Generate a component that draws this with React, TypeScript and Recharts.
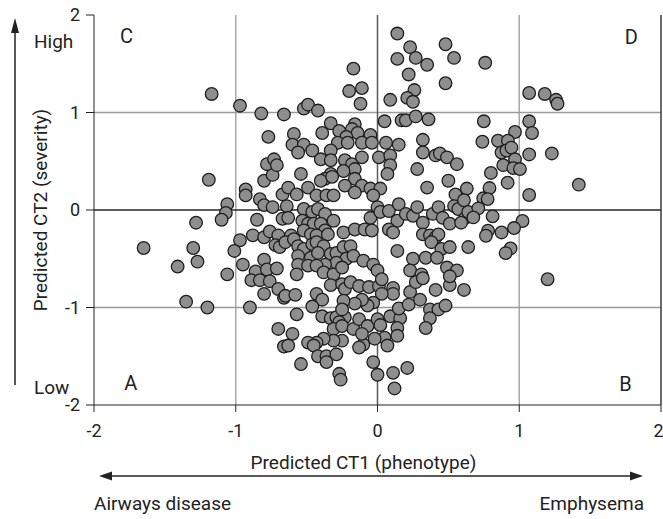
import React from "react";
import {
  ScatterChart,
  Scatter,
  XAxis,
  YAxis,
  ReferenceLine,
  ReferenceDot,
} from "recharts";

// Predicted CT1 (phenotype), Predicted CT2 (severity) pairs, grouped by area of the plot
const topLeftPoints: [number, number][] = [
  [-1.17, 1.19], [-0.97, 1.07], [-0.82, 0.99], [-0.66, 0.98], [-0.77, 0.75],
];

const topCenterPoints: [number, number][] = [
  [0.14, 1.81], [0.23, 1.67], [0.48, 1.7], [0.14, 1.55], [0.27, 1.56], [0.35, 1.49],
  [0.54, 1.56], [-0.17, 1.45], [0.22, 1.39], [0.48, 1.3], [-0.2, 1.22], [-0.11, 1.25],
  [0.26, 1.23], [-0.12, 1.09], [0.09, 1.13], [0.21, 1.15], [0.25, 1.11], [-0.52, 1.04],
  [-0.49, 1.08], [-0.42, 1.02], [-0.33, 0.89], [-0.16, 0.88], [-0.18, 0.83], [-0.27, 0.81],
  [-0.39, 0.79], [-0.59, 0.78], [-0.14, 0.79], [-0.05, 0.77], [-0.22, 0.75], [0.05, 0.91],
  [0.17, 0.92], [0.2, 0.92], [0.27, 0.96], [0.36, 0.93], [0.32, 0.72], [-0.28, 0.69],
  [-0.21, 0.69], [-0.11, 0.69], [-0.04, 0.69], [-0.6, 0.67], [-0.52, 0.67], [0.06, 0.69],
  [0.15, 0.67],
];

const topRightPoints: [number, number][] = [
  [0.76, 1.51], [1.07, 1.2], [1.18, 1.19], [1.26, 1.13], [1.27, 1.09], [0.75, 0.91],
  [1.07, 0.91], [1.09, 0.79], [0.97, 0.8], [0.74, 0.7], [0.85, 0.71], [0.92, 0.71],
];

const midLeftPoints: [number, number][] = [
  [-1.19, 0.31], [-1.06, 0.06], [-1.07, -0.03], [-1.1, -0.1], [-1.28, -0.13], [-1.65, -0.39],
  [-1.3, -0.39], [-1.27, -0.53], [-1.41, -0.58], [-1.06, -0.66], [-0.97, -0.31], [-1.01, -0.42],
  [-0.95, -0.56], [-0.85, -0.1], [-0.88, -0.26], [-0.8, -0.28], [-0.76, -0.22], [-0.7, -0.26],
  [-0.72, -0.36], [-0.69, -0.38], [-0.8, -0.51], [-0.86, -0.63], [-0.78, -0.61], [-0.71, -0.6],
  [-0.93, 0.21], [-0.93, 0.15], [-0.83, 0.11], [-0.8, 0.05], [-0.74, 0.03], [-0.8, 0.3],
  [-0.74, 0.36], [-0.78, 0.47], [-0.73, 0.52], [-0.71, 0.46], [-0.67, 0.16], [-0.67, -0.09],
];

const midCenterPoints: [number, number][] = [
  [-0.56, 0.59], [-0.46, 0.61], [-0.4, 0.52], [-0.33, 0.61], [-0.33, 0.51], [-0.23, 0.51],
  [-0.18, 0.47], [-0.16, 0.42], [-0.11, 0.54], [0.01, 0.54], [0.09, 0.56], [0.09, 0.46],
  [0.07, 0.37], [-0.24, 0.4], [-0.33, 0.37], [-0.37, 0.32], [-0.4, 0.3], [-0.32, 0.34],
  [-0.54, 0.37], [-0.16, 0.32], [-0.23, 0.25], [-0.11, 0.25], [-0.05, 0.22], [0.02, 0.22],
  [-0.16, 0.18], [-0.03, 0.15], [-0.63, 0.23], [-0.57, 0.16], [-0.49, 0.23], [-0.43, 0.15],
  [-0.36, 0.15], [-0.31, 0.15],
  [0.32, 0.59], [0.41, 0.56], [0.44, 0.58], [0.49, 0.54], [0.56, 0.47], [0.28, 0.42],
  [0.5, 0.3], [0.35, 0.23], [0.63, 0.22], [0.55, 0.16],
  [-0.64, 0.04], [-0.63, -0.08], [-0.52, 0.01], [-0.46, -0.02], [-0.42, 0.01], [-0.37, -0.04],
  [-0.53, -0.11], [-0.49, -0.14], [-0.45, -0.14], [-0.4, -0.14], [-0.31, -0.11], [-0.37, -0.21],
  [-0.05, -0.08], [0.0, 0.03], [0.02, -0.02], [0.08, -0.01], [0.15, 0.06], [0.14, -0.11],
  [0.2, -0.04], [0.25, -0.06], [0.28, 0.03], [0.32, -0.13], [0.39, -0.04], [0.43, 0.03],
  [0.46, -0.08], [0.54, 0.04], [0.57, 0.01], [0.61, 0.1], [0.62, -0.08], [0.64, -0.02],
  [0.51, -0.14], [0.59, -0.13], [0.08, -0.2], [0.11, -0.23],
  [-0.61, -0.26], [-0.52, -0.21], [-0.47, -0.25], [-0.43, -0.26], [-0.35, -0.25], [-0.24, -0.23],
  [-0.16, -0.2], [-0.09, -0.2], [-0.04, -0.21], [0.32, -0.25], [0.37, -0.26], [0.41, -0.28],
  [0.43, -0.25], [0.38, -0.33], [0.45, -0.4], [0.51, -0.38], [0.64, -0.38],
  [-0.65, -0.33], [-0.59, -0.3], [-0.56, -0.37], [-0.52, -0.4], [-0.46, -0.35], [-0.43, -0.33],
  [-0.38, -0.37], [-0.56, -0.47], [-0.47, -0.49], [-0.42, -0.44], [-0.33, -0.45], [-0.29, -0.44],
  [-0.24, -0.38], [-0.19, -0.37], [-0.22, -0.5], [-0.17, -0.47], [-0.1, -0.52], [-0.03, -0.56],
  [-0.29, -0.54], [-0.37, -0.56], [-0.56, -0.56], [-0.49, -0.57], [-0.43, -0.57], [-0.57, -0.66],
  [-0.38, -0.64], [-0.31, -0.66], [-0.25, -0.59], [0.0, -0.62],
  [0.14, -0.42], [0.25, -0.5], [0.34, -0.49], [0.42, -0.49], [0.49, -0.59], [0.56, -0.62],
  [0.23, -0.62], [0.31, -0.66],
];

const midRightPoints: [number, number][] = [
  [0.875, 0.59], [0.91, 0.61], [0.945, 0.64], [0.97, 0.52], [0.887, 0.46], [0.958, 0.43],
  [1.005, 0.42], [1.07, 0.57], [1.23, 0.58], [0.8, 0.38], [0.918, 0.28], [0.79, 0.225],
  [1.42, 0.26], [1.07, 0.154], [0.746, 0.12], [0.777, 0.112], [0.711, 0.017], [0.676, -0.076],
  [0.812, -0.065], [1.023, -0.113], [0.963, -0.185], [0.78, -0.212], [0.765, -0.264], [0.875, -0.23],
  [0.939, -0.394], [0.904, -0.442], [1.2, -0.71],
];

const bottomLeftPoints: [number, number][] = [
  [-1.35, -0.94], [-1.2, -1.0], [-0.9, -1.0], [-0.89, -0.72], [-0.83, -0.72], [-0.76, -0.73],
  [-0.7, -0.81], [-0.8, -0.86], [-0.66, -0.9], [-0.7, -1.22], [-0.66, -1.4],
];

const bottomCenterPoints: [number, number][] = [
  [-0.65, -0.88], [-0.58, -0.87], [-0.43, -0.86], [-0.39, -0.92], [-0.33, -0.77], [-0.25, -0.76],
  [-0.23, -0.81], [-0.19, -0.74], [-0.13, -0.78], [-0.06, -0.79], [0.01, -0.78], [0.03, -0.71],
  [0.11, -0.8], [0.11, -0.86], [0.03, -0.86], [-0.03, -0.95], [-0.07, -0.98], [-0.11, -0.92],
  [-0.16, -0.96], [-0.24, -0.93], [-0.46, -0.99], [-0.57, -1.07], [-0.39, -1.09], [-0.33, -1.11],
  [-0.29, -1.1], [-0.23, -1.1], [-0.25, -1.02], [-0.27, -1.15], [-0.31, -1.22], [-0.25, -1.19],
  [-0.17, -1.22], [-0.13, -1.12], [-0.07, -1.19], [0.0, -1.12], [0.02, -1.18], [0.09, -1.09],
  [0.16, -1.11], [0.15, -1.01], [0.22, -0.97], [0.23, -0.84], [0.3, -0.92], [0.37, -1.02],
  [0.43, -1.02], [0.48, -0.98], [0.37, -1.11], [0.34, -1.21], [0.14, -1.21], [0.14, -1.29],
  [0.05, -1.31], [0.07, -1.39], [-0.02, -1.32], [-0.1, -1.38], [-0.13, -1.41], [-0.11, -1.27],
  [-0.25, -1.34], [-0.31, -1.34], [-0.38, -1.32], [-0.43, -1.36], [-0.49, -1.36], [-0.45, -1.39],
  [-0.42, -1.5], [-0.36, -1.5], [-0.36, -1.56], [-0.29, -1.48], [-0.6, -1.27], [-0.63, -1.39],
  [-0.54, -1.58], [-0.27, -1.68], [-0.26, -1.74], [-0.03, -1.56], [0.0, -1.69], [0.11, -1.67],
  [0.21, -1.62], [0.12, -1.83], [0.27, -0.74], [0.32, -0.7], [0.41, -0.82], [0.51, -0.77],
  [0.61, -0.82], [0.51, -0.68],
];

const axisTicks = [-2, -1, 0, 1, 2];

const quadrantLabels = [
  { name: "C", x: -1.77, y: 1.79 },
  { name: "D", x: 1.79, y: 1.78 },
  { name: "A", x: -1.74, y: -1.77 },
  { name: "B", x: 1.75, y: -1.78 },
];

const allPoints = [
  ...topLeftPoints,
  ...topCenterPoints,
  ...topRightPoints,
  ...midLeftPoints,
  ...midCenterPoints,
  ...midRightPoints,
  ...bottomLeftPoints,
  ...bottomCenterPoints,
].map(([x, y]) => ({ x, y }));

const INK = "#222";

const Dot = (props: any) => {
  const { cx, cy } = props;
  if (cx == null || cy == null) return null;
  return <circle cx={cx} cy={cy} r={6.3} fill="#8e8e8e" stroke="#1e1e1e" strokeWidth={1.3} />;
};

export default function App() {
  return (
    <div
      style={{
        position: "absolute",
        left: 0,
        top: 0,
        width: 663,
        height: 519,
        background: "#fff",
        fontFamily: "Roboto, sans-serif",
      }}
    >
      <ScatterChart
        width={663}
        height={519}
        margin={{ top: 15, right: 2, bottom: 0, left: 0 }}
        style={{ fontFamily: "Roboto, sans-serif" }}
      >
        <XAxis
          type="number"
          dataKey="x"
          domain={[-2, 2]}
          ticks={axisTicks}
          allowDataOverflow
          height={114}
          stroke={INK}
          tickSize={7}
          tickMargin={12}
          tick={{ fontSize: 18, fill: INK }}
          label={{
            value: "Predicted CT1 (phenotype)",
            position: "center",
            dx: -14,
            dy: 0,
            fontSize: 19,
            fill: INK,
          }}
        />
        <YAxis
          type="number"
          dataKey="y"
          domain={[-2, 2]}
          ticks={axisTicks}
          allowDataOverflow
          width={94}
          stroke={INK}
          tickSize={8}
          tickMargin={6}
          tick={{ fontSize: 18, fill: INK }}
          label={{
            value: "Predicted CT2 (severity)",
            angle: -90,
            position: "center",
            dx: -7,
            fontSize: 19,
            fill: INK,
          }}
        />
        <ReferenceLine x={-1} stroke="#a8a8a8" strokeWidth={1.5} />
        <ReferenceLine x={1} stroke="#a8a8a8" strokeWidth={1.5} />
        <ReferenceLine y={1} stroke="#9a9a9a" strokeWidth={1.5} />
        <ReferenceLine y={-1} stroke="#9a9a9a" strokeWidth={1.5} />
        <ReferenceLine x={0} stroke="#5a5a5a" strokeWidth={1.5} />
        <ReferenceLine y={0} stroke="#262626" strokeWidth={1.5} />
        <ReferenceLine x={2} stroke="#3a3a3a" strokeWidth={1.5} />
        {quadrantLabels.map((q) => (
          <ReferenceDot
            key={q.name}
            x={q.x}
            y={q.y}
            r={1}
            fill="none"
            stroke="none"
            label={{ value: q.name, position: "center", fontSize: 20, fill: INK }}
          />
        ))}
        <Scatter data={allPoints} shape={<Dot />} isAnimationActive={false} />
      </ScatterChart>
      <svg
        width={663}
        height={519}
        style={{ position: "absolute", left: 0, top: 0, pointerEvents: "none" }}
      >
        <line x1={15} y1={385} x2={15} y2={30} stroke={INK} strokeWidth={1.5} />
        <polygon points="15,18 11,33 19,33" fill={INK} />
        <text x={34} y={47.5} fontSize={19} fill={INK} fontFamily="Roboto, sans-serif">
          High
        </text>
        <text x={34} y={394} fontSize={19} fill={INK} fontFamily="Roboto, sans-serif">
          Low
        </text>
        <line x1={108} y1={476} x2={634} y2={476} stroke={INK} strokeWidth={1.5} />
        <polygon points="99,476 112,471.5 112,480.5" fill={INK} />
        <polygon points="643,476 630,471.5 630,480.5" fill={INK} />
        <text x={94} y={510} fontSize={19} fill={INK} fontFamily="Roboto, sans-serif">
          Airways disease
        </text>
        <text
          x={644}
          y={510}
          fontSize={19}
          fill={INK}
          textAnchor="end"
          fontFamily="Roboto, sans-serif"
        >
          Emphysema
        </text>
      </svg>
    </div>
  );
}
